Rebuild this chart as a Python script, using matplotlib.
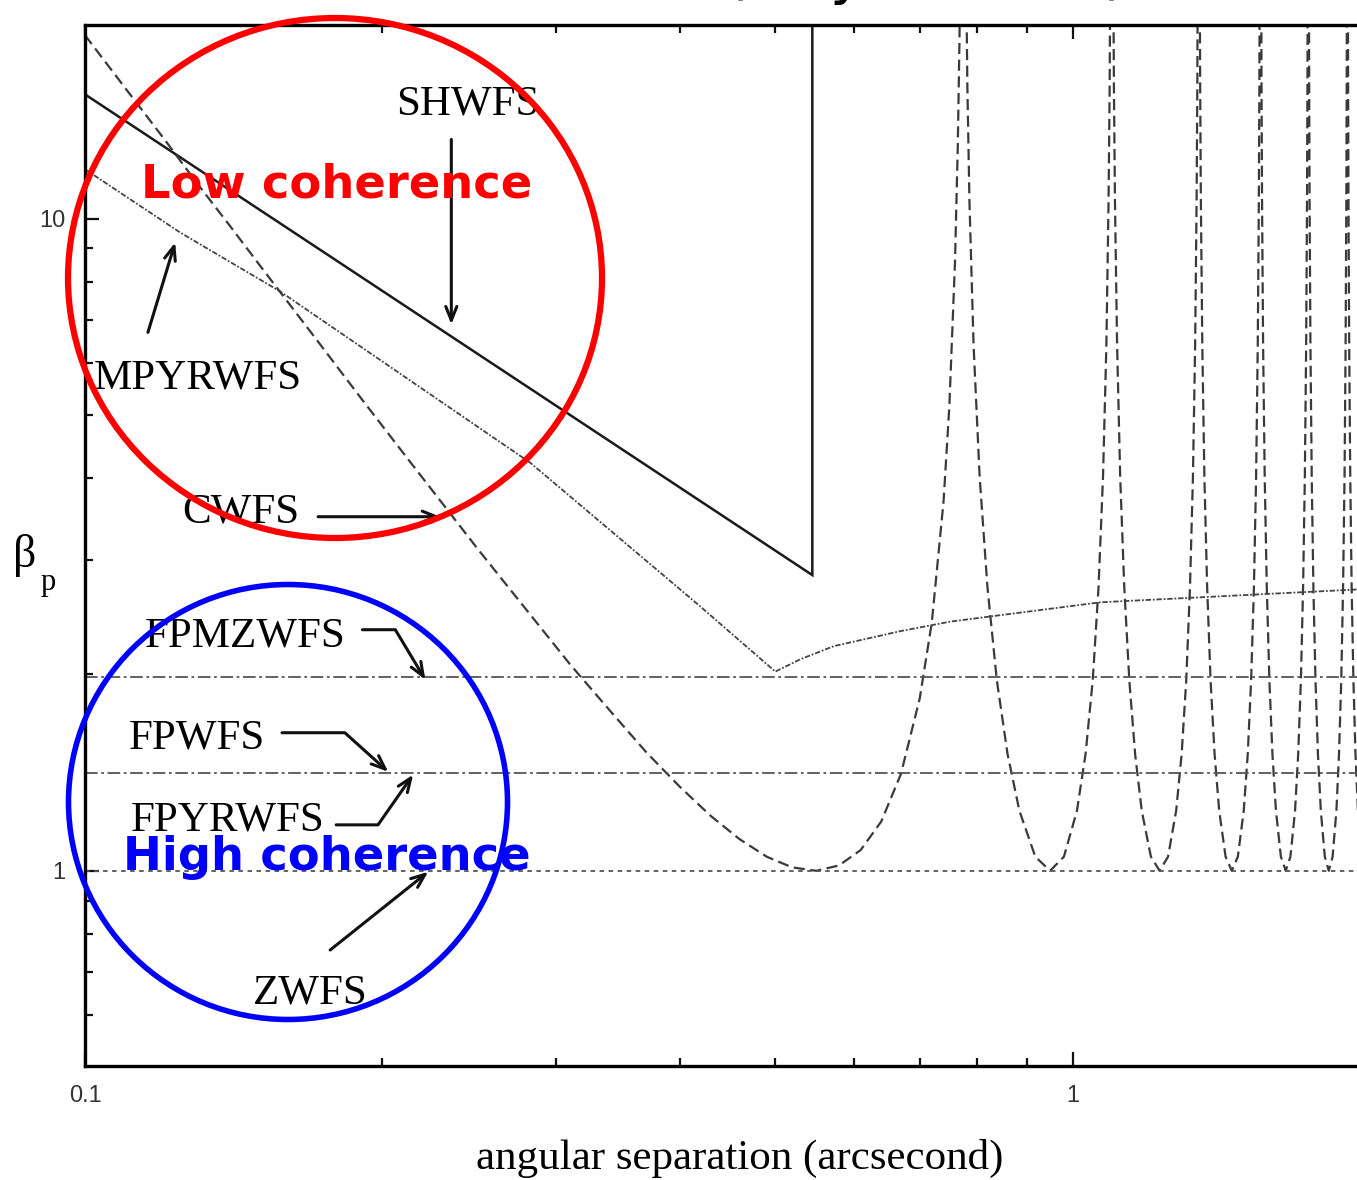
import matplotlib.pyplot as plt
from matplotlib.patches import Ellipse
from matplotlib.ticker import FixedLocator, NullFormatter, FixedFormatter, LogLocator

# ---- data ----
# SHWFS (solid)
shwfs_x = [0.1, 0.545, 0.545]
shwfs_y = [15.5, 2.84, 1000]

# MPYRWFS (fine dotted)
mpyr_x = [0.1, 0.1248, 0.1576, 0.2825, 0.42, 0.5, 0.53, 0.573, 0.669, 0.752, 1.067, 1.945, 2.12]
mpyr_y = [11.9, 9.52, 7.73, 4.22, 2.54, 2.02, 2.11, 2.21, 2.33, 2.41, 2.58, 2.70, 2.72]

# CWFS (dashed): first lobe, then the repeating lobes between the spikes
cwfs_x0 = [0.10, 0.11, 0.12, 0.13, 0.14, 0.15, 0.17, 0.19, 0.21, 0.23, 0.25, 0.28, 0.31,
           0.34, 0.37, 0.40, 0.43, 0.46, 0.49, 0.52, 0.55, 0.58, 0.61, 0.64, 0.67, 0.70,
           0.72, 0.74, 0.75, 0.76, 0.765, 0.768, 0.770]
cwfs_y0 = [19.1, 15.8, 13.3, 11.3, 9.77, 8.51, 6.64, 5.32, 4.37, 3.66, 3.11, 2.51, 2.07,
           1.76, 1.52, 1.346, 1.214, 1.118, 1.051, 1.012, 1.0, 1.019, 1.076, 1.19, 1.407, 1.836,
           2.40, 3.68, 5.13, 8.55, 12.9, 18.7, 26.9]
lobe_beta = [1000, 31.8, 15.93, 10.63, 6.39, 4.02, 2.72, 1.96, 1.51, 1.236, 1.051, 1.0,
             1.051, 1.236, 1.51, 1.96, 2.72, 4.02, 6.39, 10.63, 15.93, 31.8]
lobe1_x = [0.7746, 0.7785, 0.7823, 0.7861, 0.7937, 0.8050, 0.8198, 0.8379, 0.8591, 0.8832, 0.9165,
           0.9487, 0.9798, 1.0100, 1.0305, 1.0479, 1.0621, 1.0733, 1.0817, 1.0872, 1.0900, 1.0927]
lobe2_x = [1.0954, 1.0982, 1.1009, 1.1036, 1.1091, 1.1171, 1.1278, 1.1411, 1.1567, 1.1747, 1.2000,
           1.2247, 1.2490, 1.2728, 1.2892, 1.3031, 1.3145, 1.3236, 1.3304, 1.3349, 1.3372, 1.3394]
lobe3_x = [1.3416, 1.3439, 1.3461, 1.3483, 1.3528, 1.3594, 1.3682, 1.3791, 1.3921, 1.4071, 1.4283,
           1.4491, 1.4697, 1.4900, 1.5040, 1.5159, 1.5258, 1.5336, 1.5395, 1.5434, 1.5453, 1.5473]
lobe4_x = [1.5492, 1.5511, 1.5531, 1.5550, 1.5588, 1.5646, 1.5723, 1.5818, 1.5931, 1.6062, 1.6248,
           1.6432, 1.6613, 1.6793, 1.6917, 1.7024, 1.7111, 1.7181, 1.7234, 1.7268, 1.7286, 1.7303]
lobe5_x = [1.7321, 1.7338, 1.7355, 1.7372, 1.7407, 1.7459, 1.7527, 1.7613, 1.7714, 1.7833, 1.8000,
           1.8166, 1.8330, 1.8493, 1.8606, 1.8703, 1.8783, 1.8847, 1.8894, 1.8926, 1.8942, 1.8958]
lobe6_x = [1.8974, 1.8990, 1.9005, 1.9021, 1.9053, 1.9100, 1.9162, 1.9241, 1.9334, 1.9442, 1.9596,
           1.9748, 1.9900, 2.0050, 2.0154, 2.0244, 2.0317, 2.0377, 2.0421, 2.0450, 2.0465, 2.0479]
lobe7_x = [2.0494, 2.0509, 2.0523, 2.0538, 2.0567, 2.0611, 2.0669, 2.0741, 2.0828, 2.0928, 2.1071, 2.1213]

cwfs_x = cwfs_x0 + lobe1_x + lobe2_x + lobe3_x + lobe4_x + lobe5_x + lobe6_x + lobe7_x
cwfs_y = cwfs_y0 + lobe_beta * 6 + lobe_beta[:len(lobe7_x)]

# flat sensors
fpmzwfs_level = 1.98
fpwfs_level = 1.414
zwfs_level = 1.0

xmin, xmax = 0.1, 2.12
ymin, ymax = 0.502, 19.8

serif = "Liberation Serif"

fig = plt.figure(figsize=(13.57, 11.80), dpi=100)
ax = fig.add_axes([85 / 1357, 114 / 1180, 1310 / 1357, 1041 / 1180])
ax.set_xscale("log")
ax.set_yscale("log")

ax.plot(shwfs_x, shwfs_y, color="#1a1a1a", lw=1.8, solid_joinstyle="miter")
ax.plot(mpyr_x, mpyr_y, color="#444444", lw=1.3, linestyle=(0, (3, 1, 1, 1)))
ax.plot(cwfs_x, cwfs_y, color="#3a3a3a", lw=1.6, linestyle=(0, (5, 2.5)))
ax.axhline(fpmzwfs_level, color="#555555", lw=1.3, linestyle=(0, (7, 2, 1.5, 2)))
ax.axhline(fpwfs_level, color="#555555", lw=1.3, linestyle=(0, (7, 2, 1.5, 2)))
ax.axhline(zwfs_level, color="#555555", lw=1.3, linestyle=(0, (2.5, 2.5)))

ax.set_xlim(xmin, xmax)
ax.set_ylim(ymin, ymax)

ax.xaxis.set_major_locator(FixedLocator([0.1, 1]))
ax.xaxis.set_major_formatter(FixedFormatter(["0.1", "1"]))
ax.xaxis.set_minor_locator(LogLocator(base=10, subs=range(2, 10)))
ax.xaxis.set_minor_formatter(NullFormatter())
ax.yaxis.set_major_locator(FixedLocator([1, 10]))
ax.yaxis.set_major_formatter(FixedFormatter(["1", "10"]))
ax.yaxis.set_minor_locator(LogLocator(base=10, subs=range(2, 10)))
ax.yaxis.set_minor_formatter(NullFormatter())

ax.tick_params(which="both", direction="in", top=True, right=False, width=1.6,
               colors="#111111", labelcolor="#333333", labelsize=17, pad=14)
ax.tick_params(which="major", length=10)
ax.tick_params(which="minor", length=5.5)
for lab in ax.get_xticklabels() + ax.get_yticklabels():
    lab.set_family("Liberation Sans")
for s in ["left", "bottom", "top"]:
    ax.spines[s].set_linewidth(2.4)
ax.spines["right"].set_visible(False)

# labels and arrows
tfs = 31
ax.text(0.2443, 14.95, "SHWFS", family=serif, fontsize=tfs, ha="center", va="center")
ax.text(0.1302, 5.68, "MPYRWFS", family=serif, fontsize=tfs, ha="center", va="center")
ax.text(0.1439, 3.54, "CWFS", family=serif, fontsize=tfs, ha="center", va="center")
ax.text(0.1452, 2.29, "FPMZWFS", family=serif, fontsize=tfs, ha="center", va="center")
ax.text(0.1299, 1.594, "FPWFS", family=serif, fontsize=tfs, ha="center", va="center")
ax.text(0.1396, 1.197, "FPYRWFS", family=serif, fontsize=tfs, ha="center", va="center")
ax.text(0.169, 0.648, "ZWFS", family=serif, fontsize=tfs, ha="center", va="center")

arrow = dict(arrowstyle="->,head_length=1.0,head_width=0.4", color="#111111", lw=2.2,
             shrinkA=0, shrinkB=0)
ax.annotate("", xy=(0.2349, 6.88), xytext=(0.2349, 13.22), arrowprops=arrow)
ax.annotate("", xy=(0.1234, 9.19), xytext=(0.1158, 6.69), arrowprops=arrow)
ax.annotate("", xy=(0.2289, 3.49), xytext=(0.1722, 3.49), arrowprops=arrow)
ax.annotate("", xy=(0.2226, 0.9965), xytext=(0.1771, 0.756), arrowprops=arrow)
ax.annotate("", xy=(0.2211, 1.963), xytext=(0.1909, 2.342),
            arrowprops=dict(arrow, connectionstyle="angle,angleA=0,angleB=121,rad=0"))
ax.annotate("", xy=(0.2028, 1.418), xytext=(0.1583, 1.628),
            arrowprops=dict(arrow, connectionstyle="angle,angleA=0,angleB=138,rad=0"))
ax.annotate("", xy=(0.2149, 1.404), xytext=(0.1796, 1.176),
            arrowprops=dict(arrow, connectionstyle="angle,angleA=0,angleB=235,rad=0"))

# axis labels
fig.text(740 / 1357, 1 - 1158 / 1180, "angular separation (arcsecond)", family=serif,
         fontsize=tfs, ha="center", va="center")
fig.text(25 / 1357, 1 - 555 / 1180, "β", family=serif, fontsize=33, ha="center", va="center")
fig.text(48 / 1357, 1 - 583 / 1180, "p", family=serif, fontsize=22, ha="center", va="center")

# title, mostly cut off at the very top (only descenders visible)
fig.text(926 / 1357, 1 + 7 / 1180, "(Guyon 2005)", family="DejaVu Sans", fontsize=42,
         ha="center", va="baseline")

# coherence overlays
fig.patches.append(Ellipse((335 / 1357, 1 - 278 / 1180), 534 / 1357, 520 / 1180,
                           transform=fig.transFigure, fill=False, ec="#ff0000", lw=4.5))
fig.patches.append(Ellipse((288 / 1357, 1 - 802 / 1180), 439 / 1357, 435 / 1180,
                           transform=fig.transFigure, fill=False, ec="#0000ff", lw=4))
fig.text(337 / 1357, 1 - 185 / 1180, "Low coherence", family="DejaVu Sans", weight="bold",
         fontsize=33.5, color="#ff0000", ha="center", va="center")
fig.text(327 / 1357, 1 - 857 / 1180, "High coherence", family="DejaVu Sans", weight="bold",
         fontsize=33.5, color="#0000ff", ha="center", va="center")

fig.savefig("out.png", dpi=100)
